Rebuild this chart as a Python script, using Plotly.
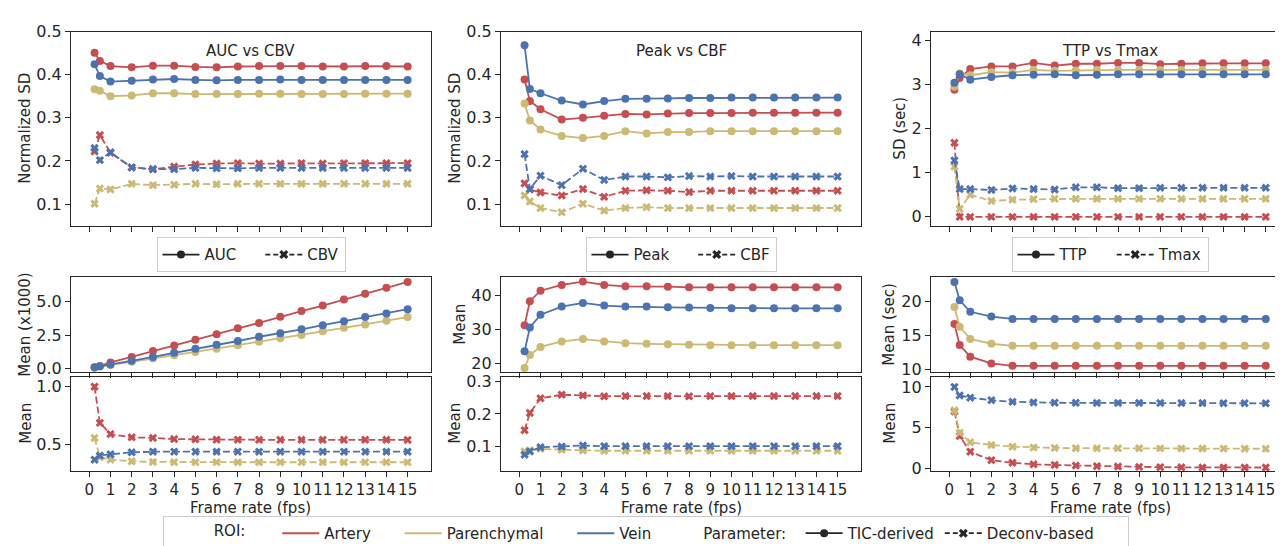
import plotly.graph_objects as go

# ---------------- data ----------------
fps = [0.25, 0.5, 1, 2, 3, 4, 5, 6, 7, 8, 9, 10, 11, 12, 13, 14, 15]
xtick_vals = list(range(0, 16))

roi_names = ["Artery", "Parenchymal", "Vein"]
roi_colors = ["#C44E52", "#CCB974", "#4C72B0"]

# Normalized SD: AUC (TIC) vs CBV (deconv)
auc_sd_artery = [0.451, 0.432, 0.420, 0.417, 0.421, 0.421, 0.418, 0.417, 0.419, 0.420, 0.420, 0.420, 0.419, 0.419, 0.420, 0.420, 0.419]
auc_sd_paren = [0.366, 0.363, 0.350, 0.352, 0.357, 0.357, 0.355, 0.355, 0.355, 0.356, 0.356, 0.355, 0.355, 0.355, 0.356, 0.356, 0.356]
auc_sd_vein = [0.424, 0.397, 0.384, 0.386, 0.389, 0.390, 0.388, 0.387, 0.388, 0.388, 0.389, 0.388, 0.388, 0.388, 0.388, 0.388, 0.388]
cbv_sd_artery = [0.222, 0.260, 0.219, 0.185, 0.181, 0.187, 0.192, 0.194, 0.195, 0.194, 0.194, 0.195, 0.194, 0.195, 0.195, 0.195, 0.195]
cbv_sd_paren = [0.101, 0.136, 0.134, 0.147, 0.144, 0.145, 0.147, 0.146, 0.147, 0.147, 0.147, 0.147, 0.147, 0.147, 0.147, 0.147, 0.147]
cbv_sd_vein = [0.230, 0.202, 0.220, 0.185, 0.181, 0.181, 0.184, 0.183, 0.183, 0.184, 0.184, 0.184, 0.184, 0.184, 0.184, 0.184, 0.184]

# Normalized SD: Peak (TIC) vs CBF (deconv)
peak_sd_artery = [0.389, 0.339, 0.320, 0.296, 0.300, 0.305, 0.309, 0.308, 0.310, 0.311, 0.311, 0.311, 0.312, 0.312, 0.312, 0.312, 0.312]
peak_sd_paren = [0.333, 0.294, 0.273, 0.258, 0.253, 0.258, 0.269, 0.264, 0.267, 0.267, 0.269, 0.269, 0.269, 0.269, 0.269, 0.269, 0.269]
peak_sd_vein = [0.468, 0.367, 0.357, 0.340, 0.331, 0.339, 0.344, 0.344, 0.345, 0.346, 0.346, 0.347, 0.347, 0.347, 0.347, 0.347, 0.347]
cbf_sd_artery = [0.148, 0.134, 0.127, 0.120, 0.135, 0.117, 0.131, 0.132, 0.131, 0.128, 0.131, 0.131, 0.131, 0.131, 0.131, 0.131, 0.131]
cbf_sd_paren = [0.120, 0.106, 0.091, 0.081, 0.101, 0.085, 0.091, 0.093, 0.091, 0.091, 0.091, 0.091, 0.091, 0.091, 0.091, 0.091, 0.091]
cbf_sd_vein = [0.216, 0.135, 0.166, 0.144, 0.182, 0.156, 0.164, 0.164, 0.162, 0.165, 0.164, 0.165, 0.164, 0.164, 0.164, 0.164, 0.164]

# SD (sec): TTP (TIC) vs Tmax (deconv)
ttp_sd_artery = [2.88, 3.15, 3.35, 3.41, 3.41, 3.49, 3.43, 3.47, 3.47, 3.49, 3.49, 3.46, 3.47, 3.48, 3.48, 3.48, 3.48]
ttp_sd_paren = [2.95, 3.25, 3.21, 3.28, 3.27, 3.33, 3.31, 3.32, 3.33, 3.33, 3.33, 3.33, 3.33, 3.33, 3.33, 3.33, 3.33]
ttp_sd_vein = [3.04, 3.23, 3.11, 3.17, 3.21, 3.22, 3.23, 3.21, 3.22, 3.23, 3.23, 3.23, 3.23, 3.23, 3.23, 3.23, 3.23]
tmax_sd_artery = [1.68, 0.00, 0.00, 0.00, 0.00, 0.00, 0.00, 0.00, 0.00, 0.00, 0.00, 0.00, 0.00, 0.00, 0.00, 0.00, 0.00]
tmax_sd_paren = [1.14, 0.18, 0.50, 0.36, 0.39, 0.40, 0.41, 0.41, 0.41, 0.41, 0.41, 0.41, 0.41, 0.41, 0.41, 0.41, 0.41]
tmax_sd_vein = [1.28, 0.63, 0.63, 0.61, 0.645, 0.63, 0.62, 0.67, 0.67, 0.65, 0.65, 0.66, 0.66, 0.66, 0.66, 0.66, 0.66]

# Mean values
auc_mean_artery = [0.05, 0.17, 0.44, 0.85, 1.29, 1.71, 2.15, 2.56, 3.00, 3.41, 3.88, 4.30, 4.71, 5.17, 5.61, 6.05, 6.49]
auc_mean_paren = [0.06, 0.13, 0.25, 0.49, 0.73, 0.98, 1.22, 1.47, 1.74, 2.00, 2.25, 2.51, 2.78, 3.04, 3.30, 3.58, 3.85]
auc_mean_vein = [0.07, 0.15, 0.29, 0.56, 0.85, 1.17, 1.46, 1.76, 2.05, 2.37, 2.63, 2.93, 3.24, 3.54, 3.85, 4.12, 4.44]
cbv_mean_artery = [1.000, 0.688, 0.591, 0.563, 0.558, 0.548, 0.546, 0.543, 0.543, 0.542, 0.542, 0.542, 0.542, 0.542, 0.542, 0.542, 0.541]
cbv_mean_paren = [0.558, 0.392, 0.370, 0.356, 0.351, 0.349, 0.348, 0.348, 0.348, 0.348, 0.348, 0.348, 0.348, 0.348, 0.348, 0.348, 0.348]
cbv_mean_vein = [0.370, 0.406, 0.417, 0.434, 0.439, 0.439, 0.439, 0.439, 0.439, 0.439, 0.439, 0.439, 0.439, 0.439, 0.439, 0.439, 0.439]

peak_mean_artery = [31.2, 38.3, 41.4, 43.1, 44.1, 43.1, 42.7, 42.7, 42.6, 42.4, 42.4, 42.4, 42.4, 42.4, 42.4, 42.4, 42.4]
peak_mean_paren = [18.6, 22.4, 24.8, 26.4, 27.1, 26.4, 25.9, 25.7, 25.6, 25.4, 25.3, 25.3, 25.3, 25.3, 25.3, 25.3, 25.3]
peak_mean_vein = [23.5, 30.5, 34.3, 36.7, 37.8, 37.0, 36.7, 36.7, 36.5, 36.4, 36.3, 36.2, 36.2, 36.2, 36.2, 36.2, 36.2]
cbf_mean_artery = [0.150, 0.203, 0.248, 0.259, 0.257, 0.254, 0.255, 0.255, 0.255, 0.254, 0.255, 0.255, 0.255, 0.255, 0.255, 0.255, 0.255]
cbf_mean_paren = [0.085, 0.088, 0.093, 0.090, 0.088, 0.087, 0.087, 0.087, 0.087, 0.087, 0.087, 0.087, 0.087, 0.087, 0.087, 0.087, 0.087]
cbf_mean_vein = [0.075, 0.085, 0.098, 0.100, 0.103, 0.101, 0.101, 0.101, 0.101, 0.101, 0.101, 0.101, 0.101, 0.101, 0.101, 0.101, 0.101]

ttp_mean_artery = [16.7, 13.6, 11.9, 10.9, 10.55, 10.55, 10.55, 10.55, 10.55, 10.55, 10.55, 10.55, 10.55, 10.55, 10.55, 10.55, 10.55]
ttp_mean_paren = [19.2, 16.3, 14.5, 13.8, 13.5, 13.5, 13.5, 13.5, 13.5, 13.5, 13.5, 13.5, 13.5, 13.5, 13.5, 13.5, 13.5]
ttp_mean_vein = [22.9, 20.2, 18.5, 17.8, 17.45, 17.45, 17.45, 17.45, 17.45, 17.45, 17.45, 17.45, 17.45, 17.45, 17.45, 17.45, 17.45]
tmax_mean_artery = [7.00, 4.00, 2.08, 1.04, 0.73, 0.54, 0.46, 0.39, 0.31, 0.27, 0.23, 0.19, 0.18, 0.15, 0.15, 0.15, 0.15]
tmax_mean_paren = [7.14, 4.40, 3.24, 2.90, 2.70, 2.59, 2.55, 2.52, 2.50, 2.50, 2.50, 2.49, 2.48, 2.47, 2.46, 2.45, 2.44]
tmax_mean_vein = [10.00, 8.96, 8.69, 8.38, 8.19, 8.10, 8.07, 8.06, 8.05, 8.05, 8.05, 8.04, 8.03, 8.03, 8.02, 8.01, 8.00]

col_titles = ["AUC vs CBV", "Peak vs CBF", "TTP vs Tmax"]
tic_names = ["AUC", "Peak", "TTP"]
dec_names = ["CBV", "CBF", "Tmax"]
top_ytitles = ["Normalized SD", "Normalized SD", "SD (sec)"]
mid_ytitles = ["Mean (x1000)", "Mean", "Mean (sec)"]
bot_ytitles = ["Mean", "Mean", "Mean"]

top_tic = [[auc_sd_artery, auc_sd_paren, auc_sd_vein],
           [peak_sd_artery, peak_sd_paren, peak_sd_vein],
           [ttp_sd_artery, ttp_sd_paren, ttp_sd_vein]]
top_dec = [[cbv_sd_artery, cbv_sd_paren, cbv_sd_vein],
           [cbf_sd_artery, cbf_sd_paren, cbf_sd_vein],
           [tmax_sd_artery, tmax_sd_paren, tmax_sd_vein]]
mid_tic = [[auc_mean_artery, auc_mean_paren, auc_mean_vein],
           [peak_mean_artery, peak_mean_paren, peak_mean_vein],
           [ttp_mean_artery, ttp_mean_paren, ttp_mean_vein]]
bot_dec = [[cbv_mean_artery, cbv_mean_paren, cbv_mean_vein],
           [cbf_mean_artery, cbf_mean_paren, cbf_mean_vein],
           [tmax_mean_artery, tmax_mean_paren, tmax_mean_vein]]

# ---------------- layout geometry ----------------
W, H = 1283, 546
col_px = [(63, 423), (493, 853), (923, 1281)]
row_px = [(15, 215), (268, 366), (371, 468)]

top_ranges = [[0.05, 0.5], [0.05, 0.5], [-0.2, 4.2]]
top_ticks = [[0.1, 0.2, 0.3, 0.4, 0.5], [0.1, 0.2, 0.3, 0.4, 0.5], [0, 1, 2, 3, 4]]
top_fmt = [".1f", ".1f", "d"]
mid_ranges = [[-0.3, 6.85], [17.3, 45.4], [9.6, 23.6]]
mid_ticks = [[0.0, 2.5, 5.0], [20, 30, 40], [10, 15, 20]]
mid_fmt = [".1f", "d", "d"]
bot_ranges = [[0.27, 1.083], [0.024, 0.313], [-0.31, 11.2]]
bot_ticks = [[0.5, 1.0], [0.1, 0.2, 0.3], [0, 5, 10]]
bot_fmt = [".1f", ".1f", "d"]

ytitle_x = [[17, 17, 18], [447, 452, 447], [892, 881, 882]]

FONT = "DejaVu Sans"
TXT = "#262626"
EDGE = "#262626"
YTICKFS = 16
XTICKFS = 15
TXTFS = 15
NB = "\u00a0"

fig = go.Figure()
layout = dict(
    width=W, height=H,
    margin=dict(l=0, r=0, t=0, b=0),
    paper_bgcolor="white", plot_bgcolor="white",
    font=dict(family=FONT, size=TXTFS, color=TXT),
    annotations=[],
)


def px_x(p):
    return p / W


def px_y(p):
    return 1 - p / H


def add_axis(idx, c, r, yrange, yticks, yfmt, show_xlabels):
    xname = "xaxis" if idx == 1 else f"xaxis{idx}"
    yname = "yaxis" if idx == 1 else f"yaxis{idx}"
    xa = "x" if idx == 1 else f"x{idx}"
    ya = "y" if idx == 1 else f"y{idx}"
    layout[xname] = dict(
        domain=[px_x(col_px[c][0]), px_x(col_px[c][1])],
        anchor=ya, range=[-0.86, 16.1],
        tickvals=xtick_vals, showticklabels=show_xlabels, tickangle=0,
        ticks="outside", ticklen=5, tickwidth=1.2, tickcolor=EDGE,
        showline=True, mirror=True, linecolor=EDGE, linewidth=1.2,
        showgrid=False, zeroline=False,
        tickfont=dict(size=XTICKFS, color=TXT),
    )
    layout[yname] = dict(
        domain=[px_y(row_px[r][1]), px_y(row_px[r][0])],
        anchor=xa, range=yrange, tickvals=yticks, tickformat=yfmt,
        ticks="outside", ticklen=5, tickwidth=1.2, tickcolor=EDGE,
        showline=True, mirror=True, linecolor=EDGE, linewidth=1.2,
        showgrid=False, zeroline=False,
        tickfont=dict(size=YTICKFS, color=TXT),
    )
    return xa, ya


def add_series(xa, ya, series, dashed):
    for k in range(3):
        fig.add_trace(go.Scatter(
            x=fps, y=series[k], xaxis=xa, yaxis=ya,
            mode="lines+markers",
            line=dict(color=roi_colors[k], width=1.8,
                      dash="7px,3px" if dashed else "solid"),
            marker=dict(symbol="x" if dashed else "circle",
                        size=7.5 if dashed else 8, color=roi_colors[k],
                        line=dict(width=0)),
            showlegend=False, hoverinfo="skip",
        ))


idx = 1
for c in range(3):
    # top panel
    xa, ya = add_axis(idx, c, 0, top_ranges[c], top_ticks[c], top_fmt[c], False)
    add_series(xa, ya, top_tic[c], False)
    add_series(xa, ya, top_dec[c], True)
    # per-column legend proxies
    lg = f"legend{c + 2}"
    fig.add_trace(go.Scatter(x=[None], y=[None], xaxis=xa, yaxis=ya, mode="lines+markers",
                             line=dict(color="#262626", width=1.8),
                             marker=dict(symbol="circle", size=8, color="#262626"),
                             name=tic_names[c] + NB * 4, legend=lg, showlegend=True))
    fig.add_trace(go.Scatter(x=[None], y=[None], xaxis=xa, yaxis=ya, mode="lines+markers",
                             line=dict(color="#262626", width=1.8, dash="5px,3px"),
                             marker=dict(symbol="x", size=8, color="#262626"),
                             name=dec_names[c], legend=lg, showlegend=True))
    cx = (col_px[c][0] + col_px[c][1]) / 2
    layout[lg] = dict(
        orientation="h", x=px_x(cx), xanchor="center", y=px_y(245), yanchor="middle",
        bordercolor="#cccccc", borderwidth=1, bgcolor="white",
        font=dict(size=TXTFS, color=TXT), itemwidth=37,
    )
    layout["annotations"].append(dict(
        text=col_titles[c], x=px_x(cx), y=px_y(35), xref="paper", yref="paper",
        showarrow=False, font=dict(size=TXTFS, color=TXT), xanchor="center", yanchor="middle"))
    layout["annotations"].append(dict(
        text=top_ytitles[c], x=px_x(ytitle_x[c][0]), y=px_y(115), xref="paper", yref="paper",
        showarrow=False, textangle=-90, font=dict(size=TXTFS, color=TXT),
        xanchor="center", yanchor="middle"))
    idx += 1

    # middle panel (TIC means)
    xa, ya = add_axis(idx, c, 1, mid_ranges[c], mid_ticks[c], mid_fmt[c], False)
    add_series(xa, ya, mid_tic[c], False)
    layout["annotations"].append(dict(
        text=mid_ytitles[c], x=px_x(ytitle_x[c][1]), y=px_y(317), xref="paper", yref="paper",
        showarrow=False, textangle=-90, font=dict(size=TXTFS, color=TXT),
        xanchor="center", yanchor="middle"))
    idx += 1

    # bottom panel (deconv means)
    xa, ya = add_axis(idx, c, 2, bot_ranges[c], bot_ticks[c], bot_fmt[c], True)
    add_series(xa, ya, bot_dec[c], True)
    layout["annotations"].append(dict(
        text=bot_ytitles[c], x=px_x(ytitle_x[c][2]), y=px_y(419), xref="paper", yref="paper",
        showarrow=False, textangle=-90, font=dict(size=TXTFS, color=TXT),
        xanchor="center", yanchor="middle"))
    layout["annotations"].append(dict(
        text="Frame rate (fps)", x=px_x(cx), y=px_y(506), xref="paper", yref="paper",
        showarrow=False, font=dict(size=TXTFS, color=TXT), xanchor="center", yanchor="middle"))
    idx += 1

# global legend proxies
roi_pad = [5, 5, 0]
for k in range(3):
    fig.add_trace(go.Scatter(x=[None], y=[None], mode="lines",
                             line=dict(color=roi_colors[k], width=2),
                             name=roi_names[k] + NB * roi_pad[k], legend="legend", showlegend=True))
fig.add_trace(go.Scatter(x=[None], y=[None], mode="lines",
                         line=dict(color="rgba(0,0,0,0)", width=0),
                         name="Parameter:" + NB * 2, legend="legend", showlegend=True))
fig.add_trace(go.Scatter(x=[None], y=[None], mode="lines+markers",
                         line=dict(color="#262626", width=1.8),
                         marker=dict(symbol="circle", size=8, color="#262626"),
                         name="TIC-derived", legend="legend", showlegend=True))
fig.add_trace(go.Scatter(x=[None], y=[None], mode="lines+markers",
                         line=dict(color="#262626", width=1.8, dash="5px,3px"),
                         marker=dict(symbol="x", size=8, color="#262626"),
                         name="Deconv-based" + NB * 6, legend="legend", showlegend=True))

layout["legend"] = dict(
    orientation="h", x=px_x(638), xanchor="center", y=px_y(532), yanchor="middle",
    bordercolor="#cccccc", borderwidth=1, bgcolor="white",
    font=dict(size=TXTFS, color=TXT), itemwidth=37,
    title=dict(text=NB * 10 + "ROI:" + NB * 5, side="left", font=dict(size=TXTFS, color=TXT)),
)

fig.update_layout(**layout)
fig.write_html("out.html")
